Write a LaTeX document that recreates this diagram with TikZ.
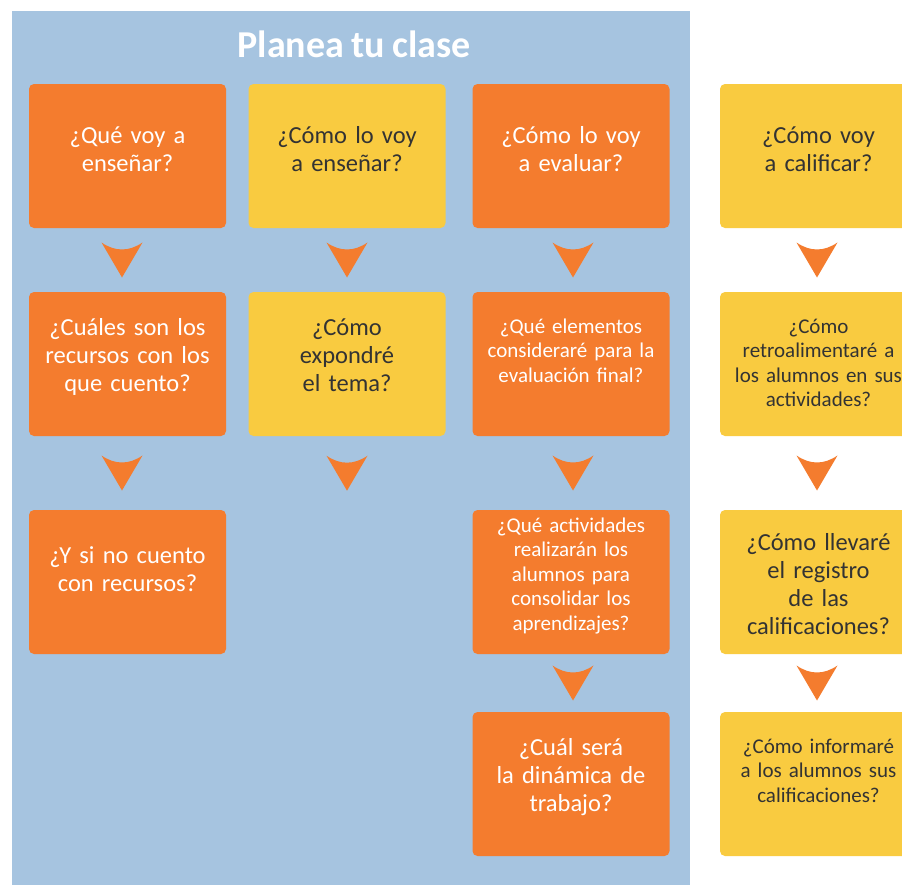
\documentclass[tikz,border=0pt]{standalone}
\usepackage{fontspec}
\setmainfont{Carlito}[WordSpace=0.85]
\usetikzlibrary{calc}
\definecolor{panelblue}{HTML}{A6C4E0}
\definecolor{boxorange}{HTML}{F47C2E}
\definecolor{boxyellow}{HTML}{F9CB40}
\definecolor{darktext}{HTML}{333333}
\tikzset{
  qbox/.style={rounded corners=5pt, minimum width=197pt, minimum height=144pt, inner sep=0pt, draw=none},
  obox/.style={qbox, fill=boxorange},
  ybox/.style={qbox, fill=boxyellow},
  qtext/.style={anchor=base, inner sep=0pt, text width=240pt, align=center},
  big/.style={qtext, font=\fontsize{24.5}{28}\selectfont},
  small/.style={qtext, font=\fontsize{21}{24.5}\selectfont},
  wt/.style={text=white},
  dt/.style={text=darktext},
  chev/.pic={\fill[boxorange] (-20.5,-17.5) .. controls (-7,-8.2) and (7,-8.2) .. (20.5,-17.5) -- (0,17.5) -- cycle;}
}
\begin{document}
\begin{tikzpicture}[x=1pt,y=-1pt]
\useasboundingbox (0,0) rectangle (902,884);
\clip (0,0) rectangle (902,884);
\fill[white] (0,0) rectangle (902,884);
\fill[panelblue] (12,11) rectangle (690,890);
\node[anchor=base, inner sep=0pt, text=white, font=\bfseries\fontsize{38}{44}\selectfont] (title) at (354,57) {Planea tu clase};
% boxes
\node[obox] (b11) at (127.5,156) {};
\node[ybox] (b12) at (347,156) {};
\node[obox] (b13) at (571,156) {};
\node[ybox] (b14) at (818.5,156) {};
\node[obox] (b21) at (127.5,364) {};
\node[ybox] (b22) at (347,364) {};
\node[obox] (b23) at (571,364) {};
\node[ybox] (b24) at (818.5,364) {};
\node[obox] (b31) at (127.5,582) {};
\node[obox] (b33) at (571,582) {};
\node[ybox] (b34) at (818.5,582) {};
\node[obox] (b43) at (571,784) {};
\node[ybox] (b44) at (818.5,784) {};
% texts
\node[big,wt] (t11) at (127.5,143) {¿Qué voy a\\enseñar?};
\node[big,dt] (t12) at (347,143) {¿Cómo lo voy\\a enseñar?};
\node[big,wt] (t13) at (571,143) {¿Cómo lo voy\\a evaluar?};
\node[big,dt] (t14) at (818.5,143) {¿Cómo voy\\a calificar?};
\node[big,wt] (t21) at (127.5,335) {¿Cuáles son los\\recursos con los\\que cuento?};
\node[big,dt] (t22) at (347,335) {¿Cómo\\expondré\\el tema?};
\node[small,wt] (t23) at (571,333) {¿Qué elementos\\consideraré para la\\evaluación final?};
\node[small,dt] (t24) at (818.5,333) {¿Cómo\\retroalimentaré a\\los alumnos en sus\\actividades?};
\node[big,wt] (t31) at (127.5,563) {¿Y si no cuento\\con recursos?};
\node[small,wt] (t33) at (571,532) {¿Qué actividades\\realizarán los\\alumnos para\\consolidar los\\aprendizajes?};
\node[big,dt] (t34) at (818.5,550) {¿Cómo llevaré\\el registro\\de las\\calificaciones?};
\node[big,wt] (t43) at (571,755) {¿Cuál será\\la dinámica de\\trabajo?};
\node[small,dt] (t44) at (818.5,753) {¿Cómo informaré\\a los alumnos sus\\calificaciones?};
% arrows
\coordinate (a1) at ($(b11.south)!0.5!(b21.north)+(-5.5,0)$);
\coordinate (a2) at ($(b21.south)!0.5!(b31.north)+(-5.5,0)$);
\coordinate (a3) at ($(b12.south)!0.5!(b22.north)$);
\coordinate (a4) at ($(b22.south)+(0,37)$);
\coordinate (a5) at ($(b13.south)!0.5!(b23.north)+(2,0)$);
\coordinate (a6) at ($(b23.south)!0.5!(b33.north)+(2,0)$);
\coordinate (a7) at ($(b33.south)!0.5!(b43.north)+(2,0)$);
\coordinate (a8) at ($(b14.south)!0.5!(b24.north)+(-1.5,0)$);
\coordinate (a9) at ($(b24.south)!0.5!(b34.north)+(-1.5,0)$);
\coordinate (a10) at ($(b34.south)!0.5!(b44.north)+(-1.5,0)$);
\foreach \c in {a1,a2,a3,a4,a5,a6,a7,a8,a9,a10} \pic at (\c) {chev};
\end{tikzpicture}
\end{document}
